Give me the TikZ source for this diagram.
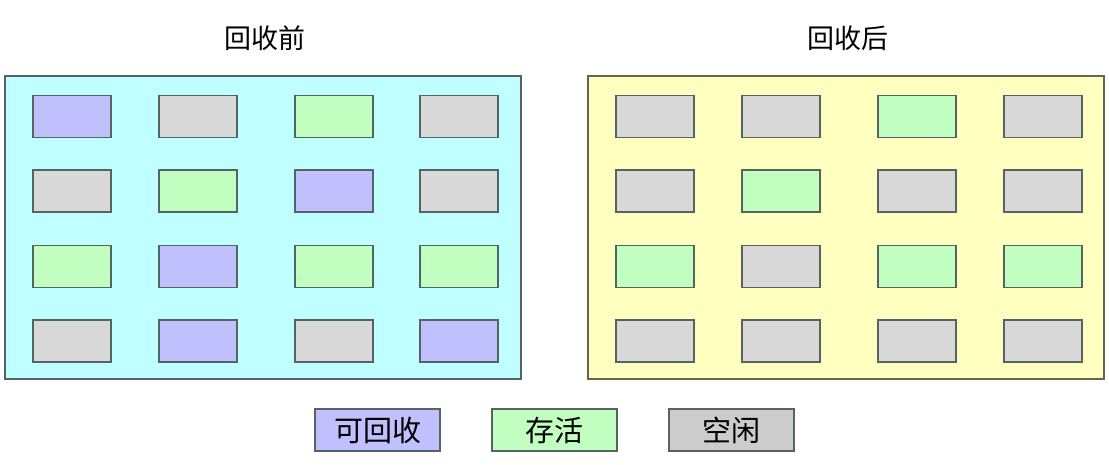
\documentclass[tikz,border=0pt]{standalone}
\usepackage{fontspec}
\setmainfont{Noto Sans CJK SC}
\definecolor{freeable}{HTML}{C0C0FF}
\definecolor{alive}{HTML}{C0FFC0}
\definecolor{empty}{HTML}{D9D9D9}
\definecolor{emptykey}{HTML}{CCCCCC}
\definecolor{beforebg}{HTML}{C0FFFF}
\definecolor{afterbg}{HTML}{FFFFC0}
\definecolor{edgegray}{HTML}{556363}
\tikzset{
  cell/.style={draw=edgegray, line width=1.2pt, minimum width=78pt, minimum height=42pt, inner sep=0pt},
  keybox/.style={draw=edgegray, line width=1.2pt, minimum width=125pt, minimum height=42pt, inner sep=0pt, font=\fontsize{29}{32}\selectfont},
  title/.style={font=\fontsize{27}{30}\selectfont}
}
\begin{document}
\begin{tikzpicture}[x=1pt, y=-1pt]
\useasboundingbox (0,0) rectangle (1109,465);
% panels
\node[draw=edgegray, line width=1.2pt, fill=beforebg, minimum width=516pt, minimum height=303pt, inner sep=0pt] (before) at (263,227.5) {};
\node[draw=black!60!afterbg, line width=1.2pt, fill=afterbg, minimum width=516pt, minimum height=303pt, inner sep=0pt] (after) at (846,227.5) {};
\node[title] (tbefore) at (265,38) {回收前};
\node[title] (tafter) at (848,38) {回收后};
% before
\node[cell, fill=freeable] (b11) at (72,116.5) {};
\node[cell, fill=empty] (b12) at (198,116.5) {};
\node[cell, fill=alive] (b13) at (334,116.5) {};
\node[cell, fill=empty] (b14) at (459,116.5) {};
\node[cell, fill=empty] (b21) at (72,191) {};
\node[cell, fill=alive] (b22) at (198,191) {};
\node[cell, fill=freeable] (b23) at (334,191) {};
\node[cell, fill=empty] (b24) at (459,191) {};
\node[cell, fill=alive] (b31) at (72,266.5) {};
\node[cell, fill=freeable] (b32) at (198,266.5) {};
\node[cell, fill=alive] (b33) at (334,266.5) {};
\node[cell, fill=alive] (b34) at (459,266.5) {};
\node[cell, fill=empty] (b41) at (72,341) {};
\node[cell, fill=freeable] (b42) at (198,341) {};
\node[cell, fill=empty] (b43) at (334,341) {};
\node[cell, fill=freeable] (b44) at (459,341) {};
% after
\node[cell, fill=empty] (a11) at (655,116.5) {};
\node[cell, fill=empty] (a12) at (781,116.5) {};
\node[cell, fill=alive] (a13) at (917,116.5) {};
\node[cell, fill=empty] (a14) at (1043,116.5) {};
\node[cell, fill=empty] (a21) at (655,191) {};
\node[cell, fill=alive] (a22) at (781,191) {};
\node[cell, fill=empty] (a23) at (917,191) {};
\node[cell, fill=empty] (a24) at (1043,191) {};
\node[cell, fill=alive] (a31) at (655,266.5) {};
\node[cell, fill=empty] (a32) at (781,266.5) {};
\node[cell, fill=alive] (a33) at (917,266.5) {};
\node[cell, fill=alive] (a34) at (1043,266.5) {};
\node[cell, fill=empty] (a41) at (655,341) {};
\node[cell, fill=empty] (a42) at (781,341) {};
\node[cell, fill=empty] (a43) at (917,341) {};
\node[cell, fill=empty] (a44) at (1043,341) {};
% legend
\node[keybox, fill=freeable] (kfree) at (377.5,430) {可回收};
\node[keybox, fill=alive] (kalive) at (554.5,430) {存活};
\node[keybox, fill=emptykey] (kempty) at (731.5,430) {空闲};
\end{tikzpicture}
\end{document}
